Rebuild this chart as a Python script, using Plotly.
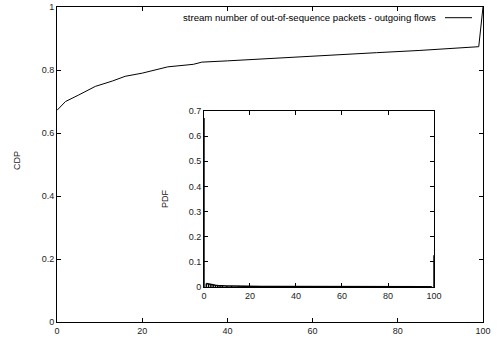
import plotly.graph_objects as go

# CDF of stream number of out-of-sequence packets (main plot)
cdf_x = [0, 2, 5, 9, 13, 16, 20, 26, 32, 34, 40, 45, 55, 65, 75, 85, 95, 99, 100]
cdf_y = [0.672, 0.70, 0.72, 0.748, 0.765, 0.78, 0.79, 0.81, 0.818, 0.825, 0.829,
         0.833, 0.840, 0.847, 0.855, 0.862, 0.870, 0.874, 1.0]

# PDF (inset), drawn as impulses
pdf_x = [0, 1, 2, 3, 4, 5, 6, 7, 8, 10, 12, 15, 20, 25, 30, 40, 50, 60, 70, 80, 90, 99, 100]
pdf_y = [0.672, 0.014, 0.012, 0.009, 0.008, 0.007, 0.006, 0.005, 0.005, 0.004, 0.004,
         0.003, 0.003, 0.002, 0.002, 0.002, 0.002, 0.002, 0.001, 0.001, 0.001, 0.001, 0.126]

legend_label = "stream number of out-of-sequence packets - outgoing flows"
main_xticks = [0, 20, 40, 60, 80, 100]
main_yticks = [0, 0.2, 0.4, 0.6, 0.8, 1]
main_ytext = ["0", "0.2", "0.4", "0.6", "0.8", "1"]
inset_yticks = [0, 0.1, 0.2, 0.3, 0.4, 0.5, 0.6, 0.7]
inset_ytext = ["0", "0.1", "0.2", "0.3", "0.4", "0.5", "0.6", "0.7"]

FONT = "Liberation Sans, Arial, sans-serif"
TXT = "#222"

imp_x, imp_y = [], []
for xv, yv in zip(pdf_x, pdf_y):
    imp_x += [xv, xv, None]
    imp_y += [0, yv, None]

fig = go.Figure()
fig.add_trace(go.Scatter(x=cdf_x, y=cdf_y, mode="lines",
                         line=dict(color="black", width=1), showlegend=False,
                         xaxis="x", yaxis="y"))
fig.add_trace(go.Scatter(x=imp_x, y=imp_y, mode="lines",
                         line=dict(color="black", width=1.5), showlegend=False,
                         xaxis="x2", yaxis="y2"))
fig.add_trace(go.Scatter(x=pdf_x[1:-1], y=pdf_y[1:-1], mode="lines",
                         line=dict(color="black", width=1.5), showlegend=False,
                         xaxis="x2", yaxis="y2"))

axis_common = dict(showline=True, linecolor="black", linewidth=1, mirror="ticks",
                   ticks="inside", ticklen=4, tickcolor="black", showgrid=False,
                   zeroline=False, tickfont=dict(family=FONT, size=9, color=TXT))

fig.update_layout(
    width=499, height=339,
    margin=dict(l=57, r=16, t=7, b=17, autoexpand=False),
    paper_bgcolor="white", plot_bgcolor="white",
    xaxis=dict(domain=[0, 1], range=[0, 100], tickvals=main_xticks, **axis_common),
    yaxis=dict(domain=[0, 1], range=[0, 1], tickvals=main_yticks,
               ticktext=main_ytext, **axis_common),
    xaxis2=dict(domain=[0.345, 0.885], range=[0, 100], tickvals=main_xticks,
                anchor="y2", **axis_common),
    yaxis2=dict(domain=[0.111, 0.670], range=[0, 0.7], tickvals=inset_yticks,
                ticktext=inset_ytext, anchor="x2", **axis_common),
    annotations=[
        dict(text="CDP", x=-0.094, y=0.514, xref="paper", yref="paper",
             xanchor="center", yanchor="middle",
             textangle=-90, showarrow=False, font=dict(family=FONT, size=9, color=TXT)),
        dict(text="PDF", x=0.2535, y=0.394, xref="paper", yref="paper",
             xanchor="center", yanchor="middle",
             textangle=-90, showarrow=False, font=dict(family=FONT, size=9, color=TXT)),
        dict(text=legend_label, x=(438 - 57) / 426, y=(322 - 17.7) / 315,
             xref="paper", yref="paper", xanchor="right", yanchor="middle",
             showarrow=False, font=dict(family=FONT, size=9.6, color="black")),
    ],
    shapes=[
        dict(type="line", xref="paper", yref="paper",
             x0=(445 - 57) / 426, x1=(472 - 57) / 426,
             y0=(322 - 17.7) / 315, y1=(322 - 17.7) / 315,
             line=dict(color="black", width=1)),
    ],
)

fig.write_html("out.html", config={"displayModeBar": False},
               post_script="document.body.style.margin='0';document.body.style.padding='0';")
